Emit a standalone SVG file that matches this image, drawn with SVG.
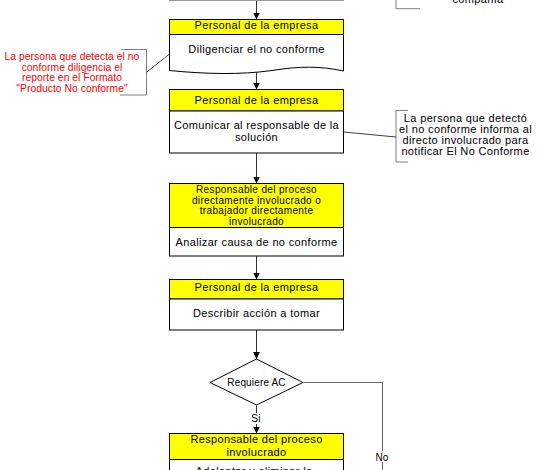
<svg xmlns="http://www.w3.org/2000/svg" width="539" height="470" viewBox="0 0 539 470">
<style>
.t{font-family:"Liberation Sans",Arial,sans-serif;font-size:11px;letter-spacing:0.35px;fill:#000;text-anchor:middle}
.s{font-size:10px}
.red{fill:#ff0000;font-size:10.3px;letter-spacing:0.05px}
.hdr{fill:#ffff00;stroke:#000;stroke-width:1}
.body{fill:#fff;stroke:#000;stroke-width:1}
.br{fill:none;stroke:#808080;stroke-width:1}
.ld{fill:none;stroke:#404040;stroke-width:1}
.cn{fill:none;stroke:#333;stroke-width:1}
</style>
<defs>
<marker id="ah" markerUnits="userSpaceOnUse" markerWidth="7" markerHeight="7" refX="7" refY="3.5" orient="auto">
<path d="M0,0 L7,3.5 L0,7 Z" fill="#000"/>
</marker>
</defs>
<rect width="539" height="470" fill="#fff"/>

<g id="connectors">
<line class="cn" x1="256.5" y1="0" x2="256.5" y2="19.5" marker-end="url(#ah)"/>
<line class="cn" x1="256.5" y1="72" x2="256.5" y2="89.5" marker-end="url(#ah)"/>
<line class="cn" x1="256.5" y1="153" x2="256.5" y2="183.5" marker-end="url(#ah)"/>
<line class="cn" x1="256.5" y1="256" x2="256.5" y2="279.5" marker-end="url(#ah)"/>
<line class="cn" x1="256.5" y1="330" x2="256.5" y2="359" marker-end="url(#ah)"/>
<line class="cn" x1="256.5" y1="405" x2="256.5" y2="433.5" marker-end="url(#ah)"/>
<polyline fill="none" stroke="#666" stroke-width="1" points="303,382.5 382.5,382.5 382.5,470"/>
<rect x="250" y="413" width="13" height="11" fill="#fff"/>
<text class="t s" x="256" y="421.7" style="letter-spacing:0.2px">Si</text>
<rect x="374" y="451" width="16" height="11" fill="#fff"/>
<text class="t s" x="382" y="460.7" style="letter-spacing:0.2px">No</text>
</g>

<g id="prev-node">
<rect x="169.5" y="-40" width="174" height="40.5" fill="#fff" stroke="#999"/>
</g>

<g id="note-top">
<polyline class="br" points="396,0 396,8.7 420,8.7"/>
<text class="t" x="478" y="3">compañía</text>
</g>

<g id="node1">
<rect class="hdr" x="169.5" y="19.5" width="174" height="15"/>
<path class="body" d="M169.5,34.5 H343.5 V71 C320,66 300,66 272,70.5 C240,75 205,74 169.5,70.5 Z"/>
<text class="t" x="256.5" y="29.3">Personal de la empresa</text>
<text class="t" x="256.5" y="53.3">Diligenciar el no conforme</text>
</g>

<g id="note-left">
<polyline class="br" points="121.5,49.5 146.5,49.5 146.5,95 120,95"/>
<line class="ld" x1="146.5" y1="72.3" x2="169.5" y2="54"/>
<text class="t red" x="72" y="60">La persona que detecta el no</text>
<text class="t red" x="72" y="70.7">conforme diligencia el</text>
<text class="t red" x="72" y="81.3">reporte en el Formato</text>
<text class="t red" x="72" y="91.7">"Producto No conforme"</text>
</g>

<g id="node2">
<rect class="hdr" x="169.5" y="89.5" width="174" height="21.5"/>
<rect class="body" x="169.5" y="111" width="174" height="42"/>
<text class="t" x="256.5" y="104">Personal de la empresa</text>
<text class="t" x="256.5" y="129.3">Comunicar al responsable de la</text>
<text class="t" x="256.5" y="141">solución</text>
</g>

<g id="note-right">
<polyline class="br" points="408,110.5 396,110.5 396,162 408,162"/>
<line class="ld" x1="343.5" y1="132" x2="396" y2="137"/>
<text class="t" x="465.5" y="122.3">La persona que detectó</text>
<text class="t" x="465.5" y="133.3">el no conforme informa al</text>
<text class="t" x="465.5" y="144">directo involucrado para</text>
<text class="t" x="465.5" y="155">notificar El No Conforme</text>
</g>

<g id="node3">
<rect class="hdr" x="169.5" y="183.5" width="174" height="44"/>
<rect class="body" x="169.5" y="227.5" width="174" height="28.5"/>
<text class="t s" x="256.5" y="193">Responsable del proceso</text>
<text class="t s" x="256.5" y="204.3">directamente involucrado o</text>
<text class="t s" x="256.5" y="214.3">trabajador directamente</text>
<text class="t s" x="256.5" y="225">involucrado</text>
<text class="t" x="256.5" y="246">Analizar causa de no conforme</text>
</g>

<g id="node4">
<rect class="hdr" x="169.5" y="279.5" width="174" height="19.5"/>
<rect class="body" x="169.5" y="299" width="174" height="31"/>
<text class="t" x="256.5" y="290.7">Personal de la empresa</text>
<text class="t" x="256.5" y="317">Describir acción a tomar</text>
</g>

<g id="decision">
<polygon points="256.5,359 303,382.5 256.5,405 210,382.5" fill="#fff" stroke="#000"/>
<text class="t s" x="256.5" y="385.7" style="letter-spacing:0.15px">Requiere AC</text>
</g>

<g id="node5">
<rect class="hdr" x="169.5" y="433.5" width="174" height="26"/>
<rect class="body" x="169.5" y="459.5" width="174" height="40"/>
<text class="t" x="256.5" y="443.3">Responsable del proceso</text>
<text class="t" x="256.5" y="456">involucrado</text>
<text class="t" x="254" y="474.5">Adelantar y eliminar la</text>
</g>
</svg>
